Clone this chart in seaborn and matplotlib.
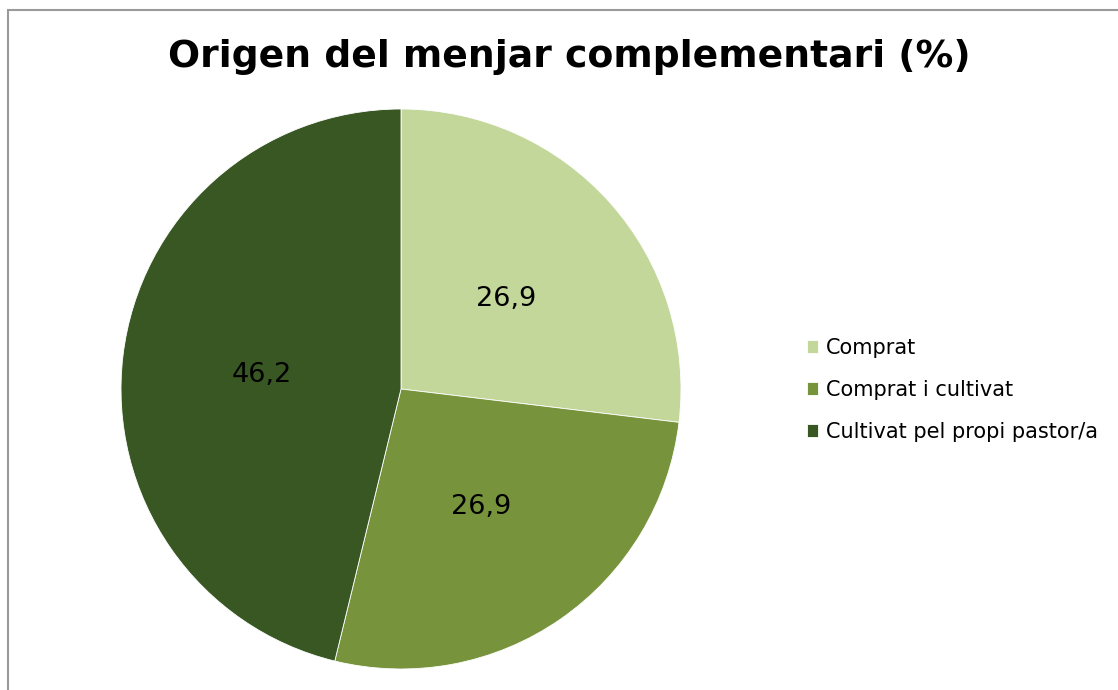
import matplotlib
matplotlib.use("Agg")
import matplotlib.pyplot as plt
from matplotlib.patches import Rectangle
import seaborn as sns
import numpy as np

sns.set_theme(style="white")
plt.rcParams['font.family'] = ['DejaVu Sans']
plt.rcParams['text.color'] = 'black'

# data
categories = ['Comprat', 'Comprat i cultivat', 'Cultivat pel propi pastor/a']
values = [26.9, 26.9, 46.2]
labels = ['26,9', '26,9', '46,2']
colors = ['#C4D79B', '#77933C', '#385723']

W, H = 1118, 690
fig = plt.figure(figsize=(W / 100, H / 100), dpi=100)
fig.patch.set_facecolor('white')

# pie centre ~ (401, 389) px, radius ~ 280 px
cx, cy, r = 401, 389, 280
ax = fig.add_axes([(cx - r) / W, (H - cy - r) / H, 2 * r / W, 2 * r / H])
wedges, _ = ax.pie(values, colors=colors, startangle=90, counterclock=False,
                   wedgeprops=dict(linewidth=0.6, edgecolor='white'))
# value labels at half radius
ang = 90.0
for w, lab, v in zip(wedges, labels, values):
    mid = np.deg2rad(ang - v * 3.6 / 2)
    ax.text(0.5 * np.cos(mid), 0.5 * np.sin(mid) - 0.011, lab, ha='center',
            va='center', fontsize=19.5, color='black')
    ang -= v * 3.6
ax.set_xlim(-1, 1)
ax.set_ylim(-1, 1)
ax.set_aspect('equal')
ax.axis('off')

fig.text(569 / W, 1 - 57 / H, 'Origen del menjar complementari (%)',
         ha='center', va='center', fontsize=27.2, fontweight='bold', color='black')

leg = fig.legend(wedges, categories, loc='center left',
                 bbox_to_anchor=(788 / W, 1 - 390 / H), frameon=False,
                 fontsize=15, handlelength=0.55, handleheight=0.55,
                 handletextpad=0.35, labelspacing=1.05)
for t in leg.get_texts():
    t.set_color('black')

# outer frame (only left and top edge visible in the reference)
fig.add_artist(Rectangle((8 / W, -0.1), 1.2, 1 - 10 / H + 0.1,
                         transform=fig.transFigure, fill=False,
                         edgecolor='#9a9a9a', linewidth=1.5))

fig.savefig('out.png', dpi=100, facecolor='white')
